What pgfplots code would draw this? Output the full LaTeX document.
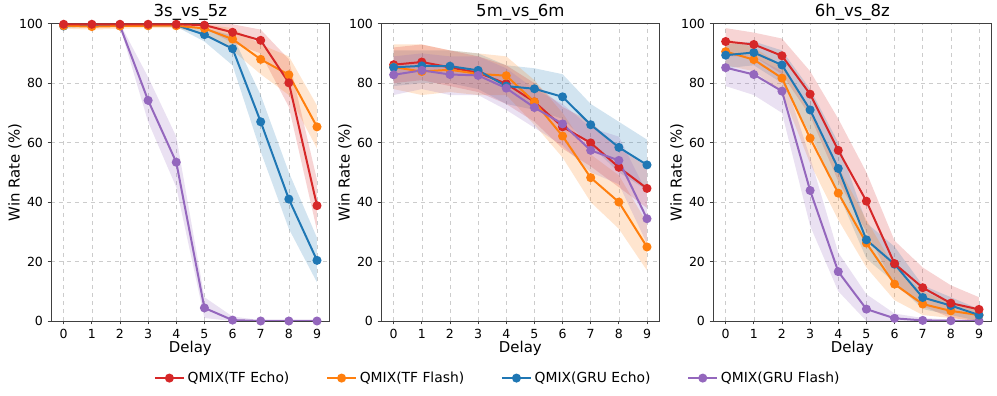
\documentclass[border=0pt]{standalone}
\usepackage{fontspec}
\setmainfont{DejaVu Sans}
\usepackage{pgfplots}
\pgfplotsset{compat=1.18}

\definecolor{tred}{HTML}{D62728}
\definecolor{torange}{HTML}{FF7F0E}
\definecolor{tblue}{HTML}{1F77B4}
\definecolor{tpurple}{HTML}{9467BD}

\pgfplotsset{
  winrate/.style={
    scale only axis, width=209pt, height=223pt,
    xmin=-0.45, xmax=9.45, ymin=0, ymax=100,
    xtick={0,...,9}, ytick={0,20,...,100},
    axis line style={black!75},
    tick align=outside, xtick pos=bottom, ytick pos=left,
    major tick length=2.5pt, tick style={black!75, line width=0.6pt},
    grid=major, grid style={dashed, black!20, line width=0.4pt},
    tick label style={font=\fontsize{9.4}{10}\selectfont},
    label style={font=\fontsize{11.2}{12}\selectfont},
    title style={font=\fontsize{12.4}{13}\selectfont,
      at={(axis description cs:0.5,1.012)}, anchor=center},
    xlabel style={at={(axis description cs:0.5,-0.091)}, anchor=center},
    ylabel style={at={(axis description cs:-0.129,0.5)}, anchor=center},
    xlabel={Delay}, ylabel={Win Rate (\%)},
    /pgf/number format/assume math mode=true,
  },
  band/.style={draw=none, fill=#1, fill opacity=0.2, forget plot},
  ln/.style={color=#1, line width=1.5pt, mark=*, mark size=2.6pt,
    mark options={solid, fill=#1}},
}

\begin{document}
\begin{tikzpicture}
\useasboundingbox (-38.25pt,-56.25pt) rectangle (709.5pt,240.75pt);

% ---- 3s_vs_5z
\begin{axis}[winrate, at={(0pt,0pt)}, anchor=south west, title={3s\_vs\_5z}]
\addplot[band=tred] coordinates {(0,99.3)(1,99.3)(2,99.3)(3,99.3)(4,99.3)(5,98.5)(6,93.5)(7,90)(8,72)(9,30.5)
  (9,47.5)(8,88)(7,98)(6,99.8)(5,100)(4,100)(3,100)(2,100)(1,100)(0,100)} -- cycle;
\addplot[band=torange] coordinates {(0,98.3)(1,98)(2,98.3)(3,98.5)(4,98.5)(5,96.5)(6,91)(7,83)(8,76)(9,58)
  (9,72.5)(8,89)(7,93)(6,98.5)(5,99.8)(4,100)(3,100)(2,100)(1,100)(0,100)} -- cycle;
\addplot[band=tblue] coordinates {(0,98.5)(1,99)(2,99)(3,99)(4,99)(5,94)(6,86)(7,57)(8,31)(9,13)
  (9,28)(8,50)(7,76)(6,96)(5,98.5)(4,100)(3,100)(2,100)(1,100)(0,99.8)} -- cycle;
\addplot[band=tpurple] coordinates {(0,99)(1,99)(2,99)(3,67)(4,45)(5,1)(6,0)(7,0)(8,0)(9,0)
  (9,0)(8,0)(7,0.3)(6,1.5)(5,8)(4,62)(3,82)(2,100)(1,100)(0,100)} -- cycle;
\addplot[ln=tpurple] coordinates {(0,99.5)(1,99.5)(2,99.3)(3,74.2)(4,53.4)(5,4.4)(6,0.3)(7,0)(8,0)(9,0)};
\addplot[ln=tblue] coordinates {(0,99.2)(1,99.5)(2,99.5)(3,99.5)(4,99.5)(5,96.3)(6,91.6)(7,67)(8,41)(9,20.4)};
\addplot[ln=torange] coordinates {(0,99.3)(1,99.0)(2,99.2)(3,99.3)(4,99.3)(5,98.4)(6,94.8)(7,88.0)(8,82.8)(9,65.3)};
\addplot[ln=tred] coordinates {(0,99.8)(1,99.8)(2,99.8)(3,99.8)(4,99.8)(5,99.5)(6,97.1)(7,94.4)(8,80.1)(9,38.8)};
\end{axis}

% ---- 5m_vs_6m
\begin{axis}[winrate, at={(247.5pt,0pt)}, anchor=south west, title={5m\_vs\_6m},
  legend columns=4,
  legend style={at={(0.42,-0.192)}, anchor=center, draw=none, fill=none,
    font=\fontsize{10.4}{11}\selectfont,
    /tikz/every even column/.append style={column sep=25.5pt}},
  legend cell align=left,
  legend image code/.code={\draw[mark repeat=2, mark phase=2, #1]
    plot coordinates {(0pt,0pt) (10.9pt,0pt) (21.8pt,0pt)};}]
\addplot[band=tblue] coordinates {(0,79)(1,80)(2,80)(3,78)(4,73)(5,71)(6,68)(7,59)(8,50)(9,44)
  (9,61)(8,67)(7,73)(6,83)(5,85)(4,86)(3,90)(2,91)(1,91)(0,91)} -- cycle;
\addplot[band=torange] coordinates {(0,78)(1,76)(2,77)(3,76)(4,76)(5,66)(6,55)(7,40)(8,31)(9,17)
  (9,33)(8,49)(7,56)(6,70)(5,81)(4,89)(3,90)(2,91)(1,93)(0,93)} -- cycle;
\addplot[band=tred] coordinates {(0,80)(1,81)(2,79)(3,77)(4,73)(5,67)(6,58)(7,52)(8,45)(9,38)
  (9,52)(8,58)(7,67)(6,72)(5,80)(4,86)(3,89)(2,91)(1,93)(0,92)} -- cycle;
\addplot[band=tpurple] coordinates {(0,76)(1,78)(2,76)(3,76)(4,71)(5,65)(6,59)(7,50)(8,46)(9,26)
  (9,43)(8,62)(7,65)(6,73)(5,78)(4,85)(3,89)(2,89)(1,90)(0,89)} -- cycle;
\addplot[ln=tred] coordinates {(0,86.2)(1,87.1)(2,85.3)(3,83.5)(4,79.8)(5,73.7)(6,65.3)(7,59.9)(8,51.7)(9,44.6)};
\addlegendentry{QMIX(TF Echo)}
\addplot[ln=torange] coordinates {(0,85.4)(1,83.9)(2,84.5)(3,83.1)(4,82.5)(5,73.7)(6,62.2)(7,48.2)(8,40)(9,24.9)};
\addlegendentry{QMIX(TF Flash)}
\addplot[ln=tblue] coordinates {(0,85.3)(1,85.8)(2,85.7)(3,84.3)(4,79)(5,78.1)(6,75.4)(7,66)(8,58.4)(9,52.5)};
\addlegendentry{QMIX(GRU Echo)}
\addplot[ln=tpurple] coordinates {(0,82.8)(1,84.3)(2,82.9)(3,82.6)(4,78.3)(5,71.8)(6,66.3)(7,57.4)(8,54)(9,34.4)};
\addlegendentry{QMIX(GRU Flash)}
\end{axis}

% ---- 6h_vs_8z
\begin{axis}[winrate, at={(496.5pt,0pt)}, anchor=south west, title={6h\_vs\_8z}]
\addplot[band=tred] coordinates {(0,89)(1,89)(2,83)(3,69)(4,47)(5,30)(6,12)(7,5)(8,1)(9,0)
  (9,8)(8,12)(7,18)(6,27)(5,50)(4,68)(3,84)(2,95)(1,97)(0,98.5)} -- cycle;
\addplot[band=tblue] coordinates {(0,85)(1,86)(2,80)(3,63)(4,43)(5,21)(6,13)(7,4)(8,2)(9,0)
  (9,4)(8,8)(7,12)(6,25)(5,33)(4,60)(3,78)(2,91)(1,94)(0,93)} -- cycle;
\addplot[band=torange] coordinates {(0,86)(1,84)(2,77)(3,53)(4,34)(5,18)(6,7)(7,2)(8,1)(9,0)
  (9,4)(8,6)(7,10)(6,18)(5,34)(4,52)(3,70)(2,86)(1,92)(0,95)} -- cycle;
\addplot[band=tpurple] coordinates {(0,79)(1,76)(2,70)(3,32)(4,10)(5,0)(6,0)(7,0)(8,0)(9,0)
  (9,0.5)(8,0.5)(7,1)(6,2.5)(5,9)(4,23)(3,55)(2,84)(1,89)(0,90)} -- cycle;
\addplot[ln=tpurple] coordinates {(0,85.2)(1,82.9)(2,77.3)(3,43.9)(4,16.6)(5,4)(6,0.9)(7,0.2)(8,0.1)(9,0)};
\addplot[ln=torange] coordinates {(0,90.6)(1,87.9)(2,81.7)(3,61.5)(4,43)(5,26.2)(6,12.4)(7,5.7)(8,3.4)(9,2)};
\addplot[ln=tblue] coordinates {(0,89.4)(1,90.3)(2,86.1)(3,71)(4,51.3)(5,27.3)(6,19.1)(7,7.9)(8,5.2)(9,2)};
\addplot[ln=tred] coordinates {(0,94)(1,93)(2,89.2)(3,76.3)(4,57.4)(5,40.3)(6,19.3)(7,11.2)(8,6)(9,3.9)};
\end{axis}
\end{tikzpicture}
\end{document}
